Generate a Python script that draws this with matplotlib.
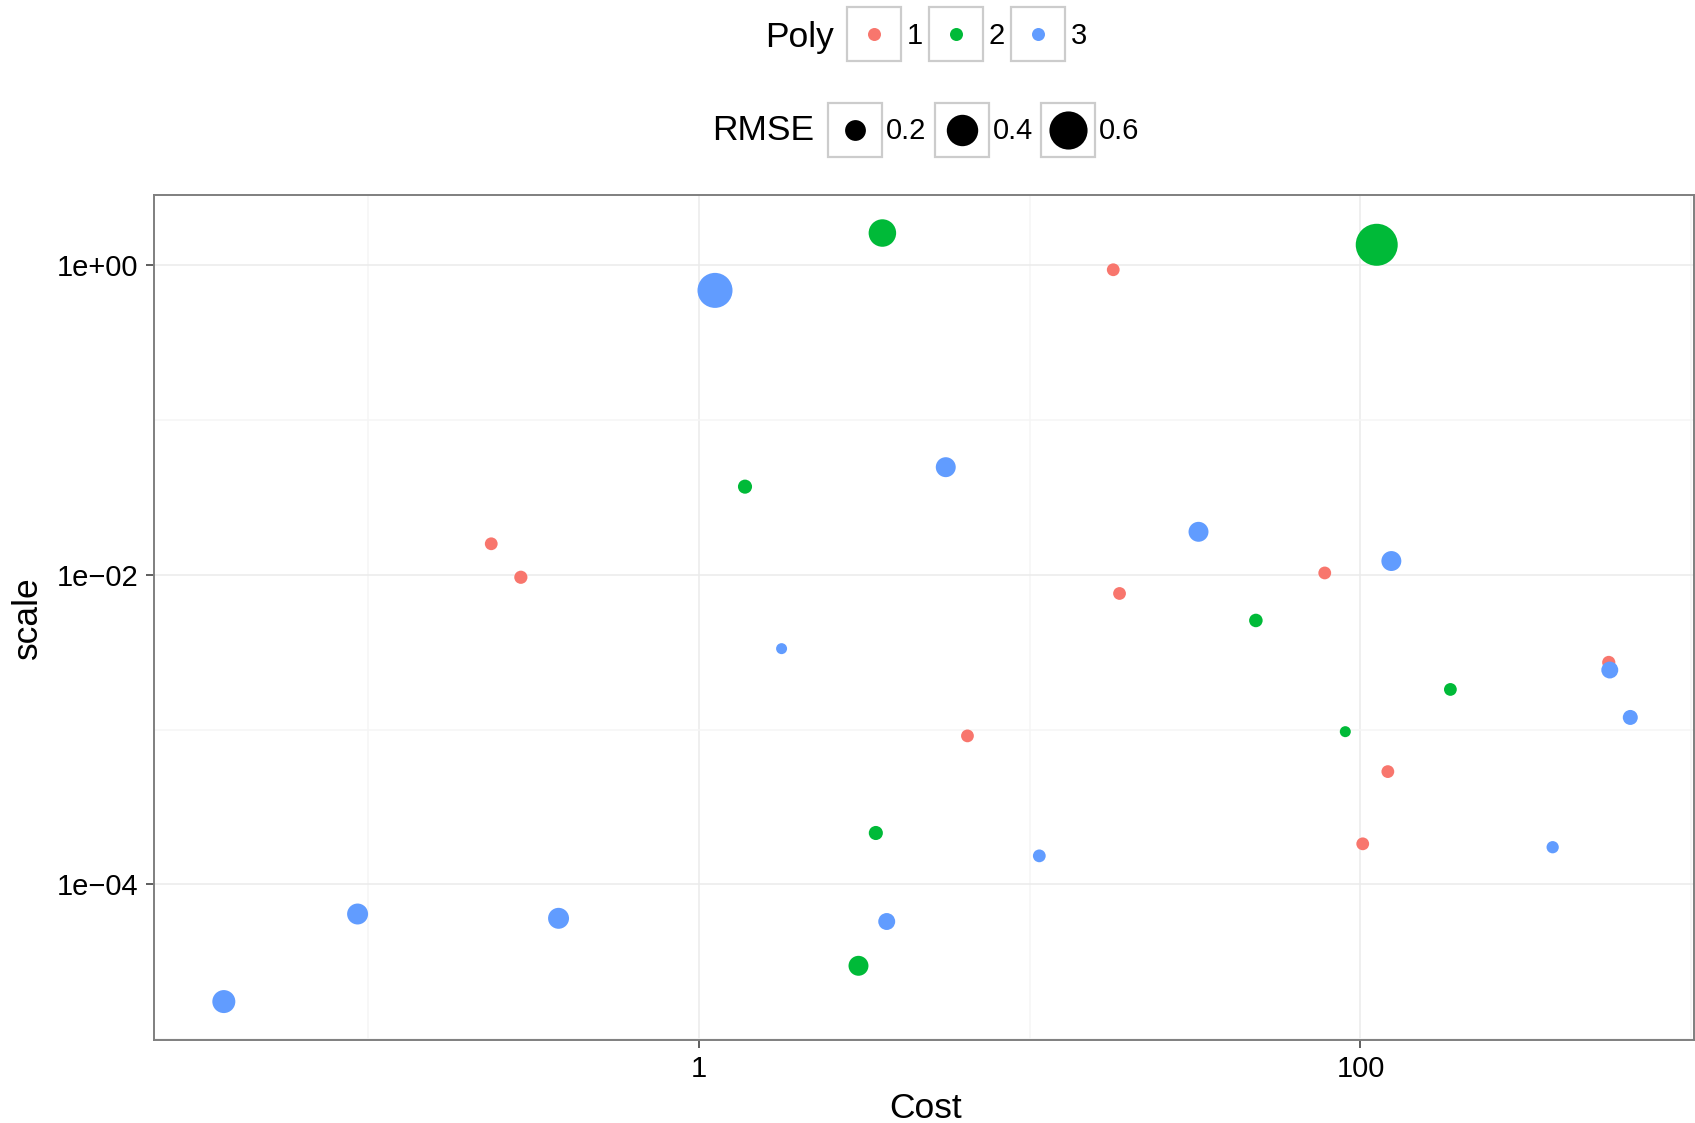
import numpy as np
import matplotlib
matplotlib.use("Agg")
import matplotlib.pyplot as plt
from matplotlib.patches import Rectangle
from matplotlib.lines import Line2D

plt.rcParams['font.family'] = ['Liberation Sans', 'DejaVu Sans']

# data (Poly 1, 2, 3)
cost_1 = [17.9, 0.236, 0.290, 78.0, 18.7, 563, 6.49, 121, 101.6]
scale_1 = [0.938, 0.0159, 0.00966, 0.0103, 0.00759, 0.00272, 0.000912, 0.000536, 0.000183]
rmse_1 = [0.142, 0.142, 0.143, 0.142, 0.142, 0.143, 0.142, 0.142, 0.142]

cost_2 = [3.59, 112, 1.38, 48.3, 187, 90.0, 3.43, 3.04]
scale_2 = [1.62, 1.36, 0.0372, 0.00508, 0.00182, 0.000971, 0.000215, 0.0000298]
rmse_2 = [0.31, 0.74, 0.146, 0.144, 0.142, 0.140, 0.146, 0.19]

cost_3 = [1.12, 5.58, 32.4, 124, 1.78, 567, 654, 381, 10.7, 0.0931, 0.377, 3.70, 0.0367]
scale_3 = [0.69, 0.0497, 0.0190, 0.0123, 0.00334, 0.00243, 0.00120, 0.000174, 0.000153,
           0.0000644, 0.0000604, 0.0000576, 0.0000175]
rmse_3 = [0.50, 0.19, 0.19, 0.19, 0.140, 0.162, 0.150, 0.141, 0.142, 0.202, 0.202, 0.162, 0.23]

poly_labels = ['1', '2', '3']
poly_colors = ['#F8766D', '#00BA38', '#619CFF']
rmse_breaks = [0.2, 0.4, 0.6]

W, H, DPI = 1695, 1123, 100


def diam_px(r):
    # ggplot-like area scale: diameter grows with sqrt of rescaled value
    r = np.asarray(r, dtype=float)
    return 11 + 31 * np.sqrt(np.clip((r - 0.14) / 0.6, 0, None))


def fx(px):
    return px / W


def fy(py):
    return 1 - py / H


fig = plt.figure(figsize=(W / DPI, H / DPI), dpi=DPI)
left, right, top, bottom = 153.5, 1694, 194.6, 1040
ax = fig.add_axes([fx(left), fy(bottom), fx(right) - fx(left), fy(top) - fy(bottom)])

series = [(cost_1, scale_1, rmse_1), (cost_2, scale_2, rmse_2), (cost_3, scale_3, rmse_3)]
for (c, s, r), col in zip(series, poly_colors):
    d_pt = diam_px(r) * 72 / DPI
    ax.scatter(c, s, s=d_pt ** 2, color=col, linewidths=0, zorder=3)

ax.set_xscale('log')
ax.set_yscale('log')

# 5% expansion on log scale like ggplot
all_x = np.log10(cost_1 + cost_2 + cost_3)
all_y = np.log10(scale_1 + scale_2 + scale_3)
ex = 0.05 * (all_x.max() - all_x.min())
ey = 0.05 * (all_y.max() - all_y.min())
ax.set_xlim(10 ** (all_x.min() - ex), 10 ** (all_x.max() - 0.02 + ex))
ax.set_ylim(10 ** (all_y.min() - ey), 10 ** (all_y.max() + ey))

ax.set_xticks([1, 100])
ax.set_xticklabels(['1', '100'], fontsize=21)
ax.set_xticks([0.1, 10, 1000], minor=True)
ax.set_yticks([1, 1e-2, 1e-4])
ax.set_yticklabels(['1e+00', '1e\u221202', '1e\u221204'], fontsize=21)
ax.set_yticks([1e-1, 1e-3, 1e-5], minor=True)
ax.xaxis.set_minor_formatter(plt.NullFormatter())
ax.yaxis.set_minor_formatter(plt.NullFormatter())

ax.grid(True, which='major', color='#EBEBEB', lw=1.1, zorder=0)
ax.grid(True, which='minor', color='#F5F5F5', lw=1.1, zorder=0)
ax.set_axisbelow(True)
ax.tick_params(which='major', length=6, width=1.1, color='#333333',
               labelcolor='black', pad=5)
ax.tick_params(which='minor', length=0)
for sp in ax.spines.values():
    sp.set_color('#7F7F7F')
    sp.set_linewidth(1.4)

# axis titles, placed by pixel centre
ax.set_xlabel('Cost', fontsize=25.5, va='center')
ax.set_ylabel('scale', fontsize=25.5, va='center')
ax.xaxis.set_label_coords((926 - left) / (right - left), (bottom - 1108) / (bottom - top))
ax.yaxis.set_label_coords((27 - left) / (right - left), 0.5)

# legends drawn as ggplot-style keys with boxes
def key_box(x0, y0, size=54):
    fig.add_artist(Rectangle((fx(x0), fy(y0 + size)), size / W, size / H,
                             transform=fig.transFigure, facecolor='white',
                             edgecolor='#CCCCCC', lw=1.6))


def key_dot(cx, cy, d, col):
    fig.add_artist(Line2D([fx(cx)], [fy(cy)], marker='o', linestyle='none',
                          markersize=d * 72 / DPI, color=col, markeredgewidth=0,
                          transform=fig.transFigure))


fig.text(fx(834), fy(37), 'Poly', ha='right', va='center', fontsize=25.5)
for i, (lab, col) in enumerate(zip(poly_labels, poly_colors)):
    x0 = [847, 929, 1011][i]
    key_box(x0, 7)
    key_dot(x0 + 27, 34, 13, col)
    fig.text(fx(x0 + 60), fy(36), lab, ha='left', va='center', fontsize=21)

fig.text(fx(814), fy(131), 'RMSE', ha='right', va='center', fontsize=25.5)
for i, b in enumerate(rmse_breaks):
    x0 = [828, 935, 1041][i]
    key_box(x0, 103)
    key_dot(x0 + 27, 129.5, float(diam_px(b)), 'black')
    fig.text(fx(x0 + 58), fy(131), f'{b:.1f}', ha='left', va='center', fontsize=21)

plt.savefig('out.png', dpi=DPI)
